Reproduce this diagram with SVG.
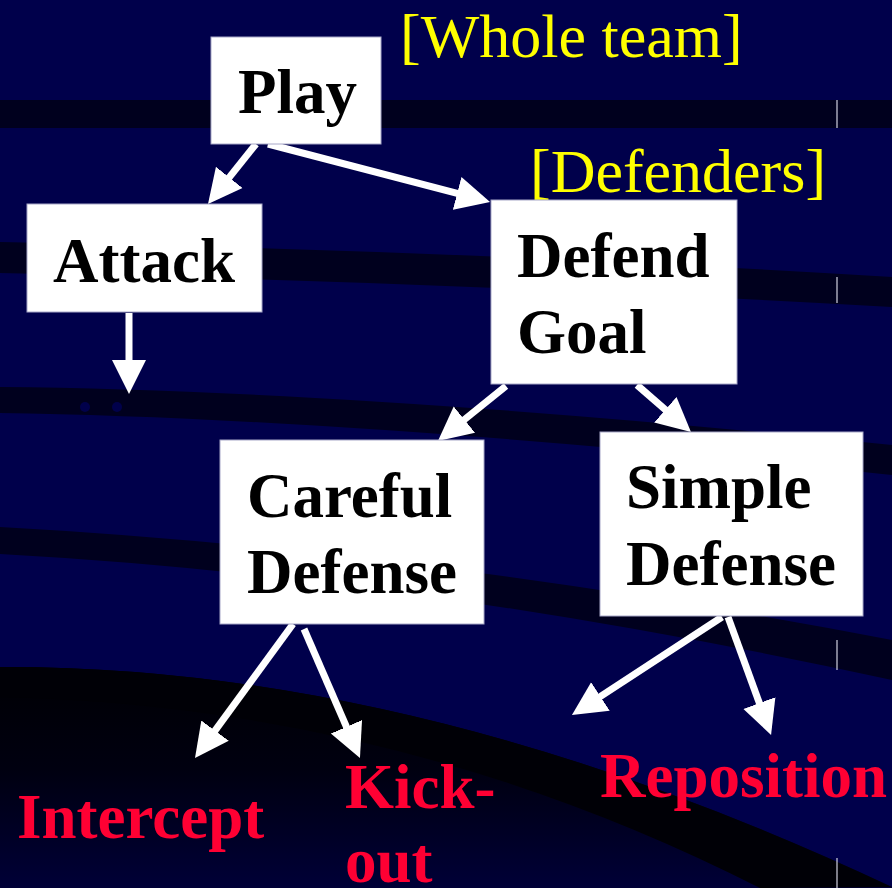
<svg xmlns="http://www.w3.org/2000/svg" width="892" height="888" viewBox="0 0 892 888">
<defs>
<style>
.box{fill:#fff;stroke:#a8a8c8;stroke-width:1}
.lbl{font-family:"Liberation Serif","Times New Roman",serif;font-weight:bold;font-size:63px;fill:#000}
.red{font-family:"Liberation Serif","Times New Roman",serif;font-weight:bold;font-size:63px;fill:#ff0033}
.yel{font-family:"Liberation Serif","Times New Roman",serif;font-size:62px;fill:#ffff00}
.arr{stroke:#fff;stroke-width:7;fill:none;marker-end:url(#ah)}
.band{fill:#00001e}
.tick{stroke:#d0d0e0;stroke-width:1.2}
</style>
<marker id="ah" markerUnits="userSpaceOnUse" markerWidth="36" markerHeight="36" refX="14" refY="17" orient="auto" viewBox="0 0 36 34">
<path d="M0,0 L34,17 L0,34 Z" fill="#fff"/>
</marker>
<linearGradient id="dark" gradientUnits="userSpaceOnUse" x1="0" y1="670" x2="0" y2="890">
<stop offset="0" stop-color="#000004"/>
<stop offset="0.45" stop-color="#000010"/>
<stop offset="1" stop-color="#000038"/>
</linearGradient>
</defs>
<g id="background">
<rect x="0" y="0" width="892" height="888" fill="#00004b"/>
<rect class="band" x="0" y="100" width="892" height="28"/>
<path class="band" d="M0,242 Q450,250 892,277 L892,307 Q450,282 0,273 Z"/>
<path class="band" d="M0,387 Q350,390 892,445 L892,475 Q350,418 0,413 Z"/>
<path class="band" d="M0,527 Q420,550 892,640 L892,680 Q420,577 0,554 Z"/>
<path d="M0,667 Q420,665 892,887 L892,888 L0,888 Z" fill="url(#dark)"/>
<path d="M0,667 Q420,665 892,887 L760,888 Q400,705 0,697 Z" fill="#000006"/>
<circle cx="85" cy="407" r="5" fill="#00004b"/>
<circle cx="117" cy="407" r="5" fill="#00004b"/>
<line class="tick" x1="837" y1="100" x2="837" y2="128"/>
<line class="tick" x1="837" y1="277" x2="837" y2="303"/>
<line class="tick" x1="837" y1="640" x2="837" y2="670"/>
<line class="tick" x1="837" y1="858" x2="837" y2="888"/>
</g>
<g id="connectors">
<line class="arr" x1="256" y1="144" x2="220.5" y2="188.4"/>
<line class="arr" x1="268" y1="144" x2="470.7" y2="196.9"/>
<line class="arr" x1="129" y1="313" x2="129" y2="374"/>
<line class="arr" x1="506" y1="386" x2="453.5" y2="428.4"/>
<line class="arr" x1="637" y1="385" x2="675.9" y2="418.9"/>
<line class="arr" x1="293" y1="624" x2="206.8" y2="741.9"/>
<line class="arr" x1="304" y1="629" x2="352" y2="739.7"/>
<line class="arr" x1="722" y1="617" x2="588.7" y2="704.1"/>
<line class="arr" x1="728" y1="617" x2="764.2" y2="716.2"/>
</g>
<g id="play">
<rect class="box" x="211" y="37" width="170" height="107"/>
<text class="lbl" x="238" y="113">Play</text>
</g>
<g id="whole-team">
<text class="yel" x="400" y="57">[Whole team]</text>
</g>
<g id="defenders">
<text class="yel" x="530" y="192">[Defenders]</text>
</g>
<g id="attack">
<rect class="box" x="27" y="204" width="235" height="108"/>
<text class="lbl" x="53" y="282">Attack</text>
</g>
<g id="defend-goal">
<rect class="box" x="491" y="200" width="246" height="184"/>
<text class="lbl" x="517" y="277">Defend</text>
<text class="lbl" x="517" y="353">Goal</text>
</g>
<g id="careful-defense">
<rect class="box" x="220" y="440" width="264" height="184"/>
<text class="lbl" x="247" y="517">Careful</text>
<text class="lbl" x="247" y="593">Defense</text>
</g>
<g id="simple-defense">
<rect class="box" x="600" y="432" width="263" height="184"/>
<text class="lbl" x="626" y="508">Simple</text>
<text class="lbl" x="626" y="585">Defense</text>
</g>
<g id="intercept">
<text class="red" x="17" y="838">Intercept</text>
</g>
<g id="kick-out">
<text class="red" x="345" y="808">Kick-</text>
<text class="red" x="345" y="882">out</text>
</g>
<g id="reposition">
<text class="red" x="600" y="797">Reposition</text>
</g>
</svg>
